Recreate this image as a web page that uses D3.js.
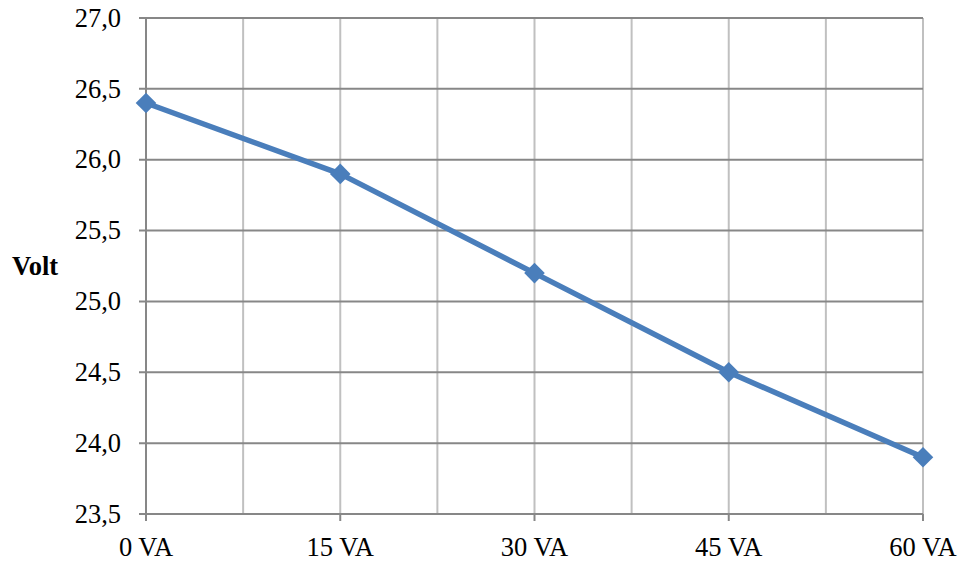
<!DOCTYPE html>
<html>
<head>
<meta charset="utf-8">
<script src="https://cdn.jsdelivr.net/npm/d3@7"></script>
<style>
  body { margin: 0; background: #fff; }
  text { font-family: "Liberation Serif", "DejaVu Serif", serif; }
</style>
</head>
<body>
<svg id="chart" width="963" height="564"></svg>
<script>
const categories = ['0 VA', '15 VA', '30 VA', '45 VA', '60 VA'];
const loadVA = [0, 15, 30, 45, 60];
const volts = [26.4, 25.9, 25.2, 24.5, 23.9];
const yTicks = [23.5, 24.0, 24.5, 25.0, 25.5, 26.0, 26.5, 27.0];
const xGrid = [0, 7.5, 15, 22.5, 30, 37.5, 45, 52.5, 60];

function drawChart() {
    const svg = d3.select('#chart');
    const margin = {top: 18, right: 40, bottom: 50, left: 146};
    const width = +svg.attr('width') - margin.left - margin.right;
    const height = +svg.attr('height') - margin.top - margin.bottom;

    const g = svg.append('g')
        .attr('transform', `translate(${margin.left},${margin.top})`);

    const x = d3.scaleLinear().domain([0, 60]).range([0, width]);
    const y = d3.scaleLinear().domain([23.5, 27.0]).range([height, 0]);

    // vertical gridlines (light)
    g.selectAll('.vgrid')
        .data(xGrid.slice(1))
        .enter().append('line')
        .attr('x1', d => x(d)).attr('x2', d => x(d))
        .attr('y1', 0).attr('y2', height)
        .attr('stroke', '#c0c0c0').attr('stroke-width', 2);

    // horizontal gridlines (darker)
    g.selectAll('.hgrid')
        .data(yTicks)
        .enter().append('line')
        .attr('x1', -7).attr('x2', width)
        .attr('y1', d => y(d)).attr('y2', d => y(d))
        .attr('stroke', '#878787').attr('stroke-width', 2);

    // y axis line
    g.append('line')
        .attr('x1', 0).attr('x2', 0)
        .attr('y1', 0).attr('y2', height + 7)
        .attr('stroke', '#878787').attr('stroke-width', 2);

    // x tick marks
    g.selectAll('.xtick')
        .data(loadVA)
        .enter().append('line')
        .attr('x1', d => x(d)).attr('x2', d => x(d))
        .attr('y1', height).attr('y2', height + 7)
        .attr('stroke', '#878787').attr('stroke-width', 2);

    // y labels
    g.selectAll('.ylab')
        .data(yTicks)
        .enter().append('text')
        .attr('x', -25)
        .attr('y', d => y(d))
        .attr('dy', '0.33em')
        .attr('text-anchor', 'end')
        .attr('font-size', 26.5)
        .attr('fill', '#000')
        .text(d => d.toFixed(1).replace('.', ','));

    // x labels
    g.selectAll('.xlab')
        .data(loadVA)
        .enter().append('text')
        .attr('x', d => x(d))
        .attr('y', height + 42)
        .attr('text-anchor', 'middle')
        .attr('font-size', 26.5)
        .attr('fill', '#000')
        .text((d, i) => categories[i]);

    // axis title
    svg.append('text')
        .attr('x', 12)
        .attr('y', y(25.25) + margin.top)
        .attr('dy', '0.35em')
        .attr('font-size', 26.5)
        .attr('font-weight', 'bold')
        .attr('fill', '#000')
        .text('Volt');

    // line
    const line = d3.line()
        .x((d, i) => x(loadVA[i]))
        .y(d => y(d));

    g.append('path')
        .datum(volts)
        .attr('d', line)
        .attr('fill', 'none')
        .attr('stroke', '#4a7ebb')
        .attr('stroke-width', 5.5)
        .attr('stroke-linejoin', 'round');

    // diamond markers
    g.selectAll('.marker')
        .data(volts)
        .enter().append('path')
        .attr('d', d3.symbol().type(d3.symbolDiamond2).size(270))
        .attr('transform', (d, i) => `translate(${x(loadVA[i])},${y(d)})`)
        .attr('fill', '#4a7ebb');
}

drawChart();
</script>
</body>
</html>
